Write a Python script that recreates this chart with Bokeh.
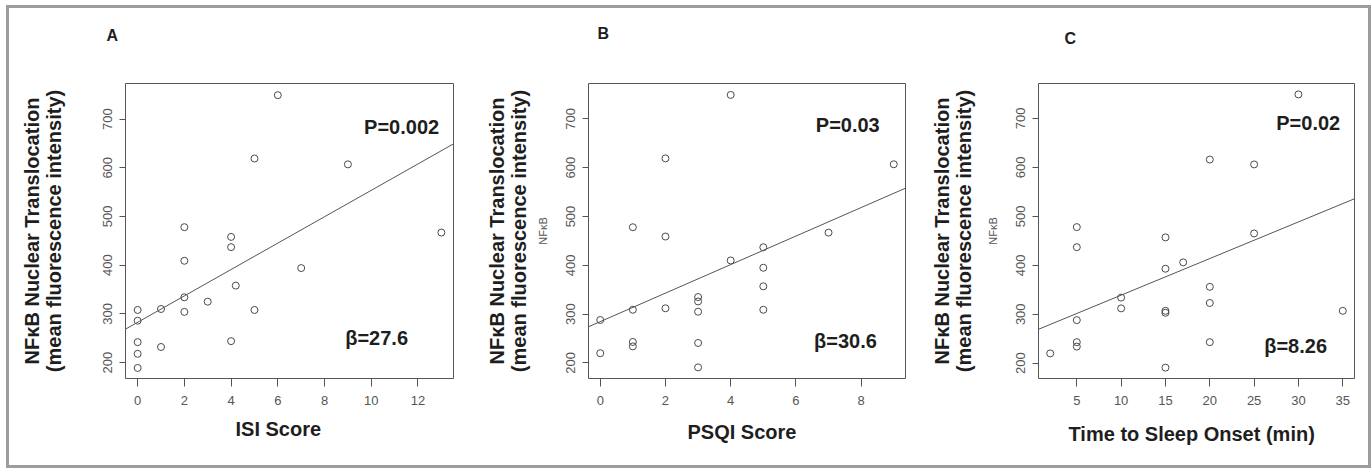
from bokeh.plotting import figure
from bokeh.layouts import row
from bokeh.models import Range1d, FixedTicker, Slope, Title, LinearAxis
from bokeh.core.properties import value
from bokeh.embed import file_html
from bokeh.resources import INLINE

# ---------------- data ----------------
# Panel A: ISI score
isi_score = [0, 0, 0, 0, 0, 1, 1, 2, 2, 2, 2, 3, 4, 4, 4, 4.2, 5, 5, 6, 7, 9, 13]
isi_nfkb = [308, 286, 242, 218, 189, 310, 232, 478, 409, 334, 304, 325, 458, 437, 244, 358, 619, 308, 749, 394, 607, 467]
isi_fit = (282.7, 27.1)          # intercept, slope of the drawn regression line
isi_xticks = [0, 2, 4, 6, 8, 10, 12]

# Panel B: PSQI score
psqi_score = [0, 0, 1, 1, 1, 1, 2, 2, 2, 3, 3, 3, 3, 3, 4, 4, 5, 5, 5, 5, 7, 9]
psqi_nfkb = [288, 220, 478, 309, 243, 234, 619, 459, 312, 335, 326, 305, 241, 191, 749, 410, 437, 395, 357, 309, 467, 607]
psqi_fit = (284.7, 29.2)
psqi_xticks = [0, 2, 4, 6, 8]

# Panel C: time to sleep onset (min)
onset_min = [2, 5, 5, 5, 5, 5, 10, 10, 15, 15, 15, 15, 15, 17, 20, 20, 20, 20, 25, 25, 30, 35]
onset_nfkb = [220, 478, 437, 288, 243, 234, 334, 312, 457, 393, 307, 303, 191, 406, 616, 356, 323, 243, 606, 465, 749, 307]
onset_fit = (264.2, 7.48)
onset_xticks = [5, 10, 15, 20, 25, 30, 35]

y_ticks = [200, 300, 400, 500, 600, 700]

y_title = "NFκB Nuclear Translocation\n(mean fluorescence intensity)"
small_ylab = "NFκB"

FONT = "Liberation Sans"
DARK = "#1e1e1e"
GRAY = "#555555"
BORDER = "#9c9c9c"

FIG_H = 457
BT, BB = 75, 87      # shared top/bottom borders (rows align frames anyway)

panels = [
    dict(letter="A", x=isi_score, y=isi_nfkb, fit=isi_fit, xticks=isi_xticks,
         xr=(-0.52, 13.52), yr=(167.3, 773.0),
         width=461, bl=116, br=17,
         xlabel="ISI Score", p_txt="P=0.002", b_txt="β=27.6", small=False,
         letter_off=-19, letter_gap=21, title_standoff=36, xl_off=110, xl_standoff=16,
         p_pos=(11.30, 683), b_pos=(10.23, 250)),
    dict(letter="B", x=psqi_score, y=psqi_nfkb, fit=psqi_fit, xticks=psqi_xticks,
         xr=(-0.36, 9.36), yr=(168.2, 772.4),
         width=455, bl=118, br=20,
         xlabel="PSQI Score", p_txt="P=0.03", b_txt="β=30.6", small=True,
         letter_off=9, letter_gap=23, title_standoff=4, xl_off=99, xl_standoff=23,
         p_pos=(7.59, 687), b_pos=(7.52, 246)),
    dict(letter="C", x=onset_min, y=onset_nfkb, fit=onset_fit, xticks=onset_xticks,
         xr=(0.68, 36.32), yr=(168.8, 771.3),
         width=443, bl=113, br=14,
         xlabel="Time to Sleep Onset (min)", p_txt="P=0.02", b_txt="β=8.26", small=True,
         letter_off=26, letter_gap=18, title_standoff=9, xl_off=30, xl_standoff=27,
         p_pos=(31.1, 690), b_pos=(29.68, 236)),
]

figs = []
for pn in panels:
    p = figure(width=pn["width"], height=FIG_H, output_backend="svg",
               toolbar_location=None, title_location=None,
               x_range=Range1d(*pn["xr"]), y_range=Range1d(*pn["yr"]),
               min_border_left=pn["bl"], min_border_right=pn["br"],
               min_border_top=BT, min_border_bottom=BB)
    p.background_fill_color = "white"
    p.border_fill_color = "white"
    p.outline_line_color = GRAY
    p.outline_line_width = 1
    p.xgrid.visible = False
    p.ygrid.visible = False

    p.xaxis.ticker = FixedTicker(ticks=pn["xticks"])
    p.yaxis.ticker = FixedTicker(ticks=y_ticks)
    for ax in (p.xaxis[0], p.yaxis[0]):
        ax.axis_line_color = None
        ax.major_tick_line_color = GRAY
        ax.major_tick_in = 0
        ax.minor_tick_line_color = None
        ax.major_label_text_font = FONT
        ax.major_label_text_font_size = "13px"
        ax.major_label_text_color = GRAY
    p.xaxis.major_tick_out = 8
    p.xaxis.major_label_standoff = 9
    p.yaxis.major_tick_out = 6
    p.yaxis.major_label_standoff = 7
    p.yaxis.major_label_orientation = "vertical"
    if pn["small"]:
        p.yaxis.axis_label = small_ylab
        p.yaxis.axis_label_text_font = FONT
        p.yaxis.axis_label_text_font_size = "11px"
        p.yaxis.axis_label_text_font_style = "normal"
        p.yaxis.axis_label_text_color = GRAY
        p.yaxis.axis_label_standoff = 15

    # big two-line y title on an extra (tick-less) axis
    tax = LinearAxis(ticker=FixedTicker(ticks=[]), axis_line_color=None,
                     major_tick_line_color=None, minor_tick_line_color=None,
                     major_tick_out=0, major_tick_in=0, major_label_standoff=0,
                     axis_label=y_title, axis_label_standoff=pn["title_standoff"],
                     axis_label_text_font=FONT, axis_label_text_font_size="20px",
                     axis_label_text_font_style="bold", axis_label_text_color=DARK,
                     axis_label_text_line_height=1.0)
    p.add_layout(tax, "left")

    # x-axis title
    p.add_layout(Title(text=pn["xlabel"], align="left", offset=pn["xl_off"],
                       standoff=pn["xl_standoff"], text_font=FONT, text_font_size="20px",
                       text_font_style="bold", text_color=DARK), "below")
    # spacer + panel letter above the frame
    p.add_layout(Title(text=" ", standoff=pn["letter_gap"], text_font=FONT,
                       text_font_size="16px"), "above")
    p.add_layout(Title(text=pn["letter"], align="left", offset=pn["letter_off"],
                       standoff=0, text_font=FONT, text_font_size="16px",
                       text_font_style="bold", text_color=DARK), "above")

    p.scatter(pn["x"], pn["y"], marker="circle", size=7, fill_color=None,
              line_color="#4a4a4a", line_width=1)
    p.add_layout(Slope(gradient=pn["fit"][1], y_intercept=pn["fit"][0],
                       line_color="#555555", line_width=1))

    # statistics annotations
    for txt, pos in ((pn["p_txt"], pn["p_pos"]), (pn["b_txt"], pn["b_pos"])):
        p.text(x=[pos[0]], y=[pos[1]], text=[txt],
               text_font=value(FONT), text_font_size="20px", text_font_style="bold",
               text_color=DARK, text_align="center", text_baseline="middle")

    figs.append(p)

layout = row(*figs, styles={"border": "3px solid " + BORDER,
                            "margin-left": "6px", "margin-top": "5px"})

open("out.html", "w").write(file_html(layout, INLINE))
